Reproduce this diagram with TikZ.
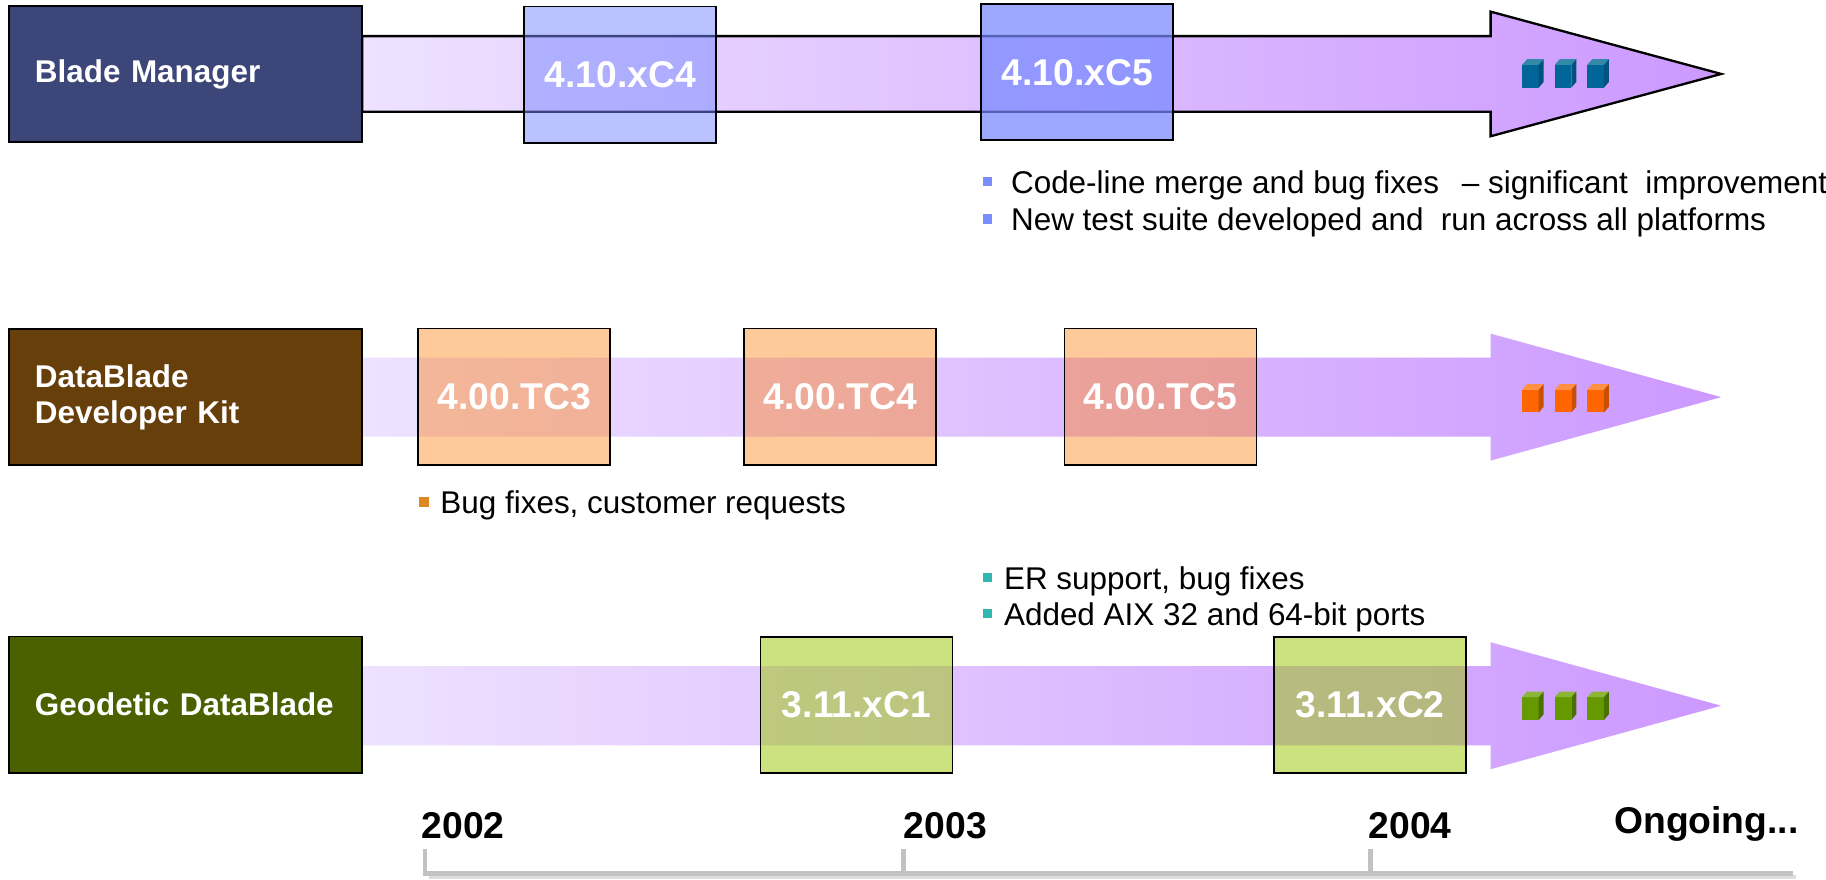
\documentclass[tikz,border=0pt]{standalone}
\usepackage{fontspec}
\setmainfont{Liberation Sans}
\definecolor{navybox}{HTML}{3C4679}
\definecolor{brownbox}{HTML}{663F0A}
\definecolor{olivebox}{HTML}{4B6100}
\definecolor{lavL}{HTML}{EEE2FF}
\definecolor{lavR}{HTML}{CC99FF}
\definecolor{bluebox}{HTML}{7789FF}
\definecolor{orangebox}{HTML}{FF7C00}
\definecolor{greenbox}{HTML}{99C700}
\definecolor{bulblue}{HTML}{7B8CFF}
\definecolor{bulorange}{HTML}{DD8822}
\definecolor{bulteal}{HTML}{33B5B0}
\definecolor{tlgray}{HTML}{C2C2C2}
\definecolor{tlshadow}{HTML}{DDDDDD}
\definecolor{cbF}{HTML}{006699}\definecolor{cbT}{HTML}{3589A8}\definecolor{cbS}{HTML}{00527C}
\definecolor{coF}{HTML}{FF6600}\definecolor{coT}{HTML}{FF9044}\definecolor{coS}{HTML}{C95000}
\definecolor{cgF}{HTML}{669900}\definecolor{cgT}{HTML}{8CB63A}\definecolor{cgS}{HTML}{4A7000}
% arrow: #1 centre y, #2 shaft half height, #3 head half height, #4 extra options
\newcommand\rowarrow[4]{%
  \shade[left color=lavL,right color=lavR,#4]
    (311,{#1-#2}) -- (1280,{#1-#2}) -- (1280,{#1-#3}) -- (1478,#1)
    -- (1280,{#1+#3}) -- (1280,{#1+#2}) -- (311,{#1+#2}) -- cycle;}
% cube: #1 left x, #2 centre y, #3 front, #4 top, #5 side
\newcommand\minicube[5]{%
  \fill[#3] (#1,{#2-7.3}) rectangle ({#1+14.3},{#2+12.2});
  \fill[#4] (#1,{#2-7.3}) -- ({#1+4.3},{#2-12.2}) -- ({#1+18.6},{#2-12.2}) -- ({#1+14.3},{#2-7.3}) -- cycle;
  \fill[#5] ({#1+14.3},{#2-7.3}) -- ({#1+18.6},{#2-12.2}) -- ({#1+18.6},{#2+7.3}) -- ({#1+14.3},{#2+12.2}) -- cycle;}
\newcommand\cuberow[4]{\minicube{1307}{#1}{#2}{#3}{#4}\minicube{1335}{#1}{#2}{#3}{#4}\minicube{1363}{#1}{#2}{#3}{#4}}
\begin{document}
\begin{tikzpicture}[x=1pt,y=-1pt,
  lbl/.style={draw=black,line width=1.5pt,fill=#1,text=white,
    font=\bfseries\fontsize{27}{31}\selectfont,minimum height=117pt,
    text width=259pt,inner xsep=22pt,inner ysep=0pt,align=left},
  vbox/.style={draw=black,line width=1.5pt,fill=#1,fill opacity=0.5,
    text opacity=1,text=white,font=\bfseries\fontsize{32}{32}\selectfont,
    minimum width=165pt,minimum height=117pt,inner sep=0pt},
  bul/.style={fill=#1,minimum size=8pt,inner sep=0pt},
  btxt/.style={anchor=base west,font=\fontsize{27}{32}\selectfont,inner sep=0pt},
  year/.style={anchor=base west,font=\bfseries\fontsize{32}{32}\selectfont,inner sep=0pt},
  tl/.style={draw=tlgray,line width=4pt},
  tlsh/.style={draw=tlshadow,line width=3pt},
]
\useasboundingbox[fill=white] (0,0) rectangle (1568,755);

% arrows
\rowarrow{63.5}{32.5}{53.5}{draw=black,line width=2pt}
\rowarrow{341}{34}{54.5}{}
\rowarrow{606}{34}{54.5}{}

% row labels
\node[lbl=navybox] (bm) at (159.5,63.5) {Blade Manager};
\node[lbl=brownbox] (ddk) at (159.5,341) {DataBlade\\Developer Kit};
\node[lbl=olivebox] (geo) at (159.5,605) {Geodetic DataBlade};

% version boxes
\node[vbox=bluebox] (c4) at (532.5,64) {4.10.xC4};
\node[vbox=bluebox,fill opacity=0.72,text opacity=1] (c5) at (925,62) {4.10.xC5};
\node[vbox=orangebox,fill opacity=0.4,text opacity=1] (tc3) at (441.5,340.5) {4.00.TC3};
\node[vbox=orangebox,fill opacity=0.4,text opacity=1] (tc4) at (721.5,340.5) {4.00.TC4};
\node[vbox=orangebox,fill opacity=0.4,text opacity=1] (tc5) at (996.5,340.5) {4.00.TC5};
\node[vbox=greenbox] (xc1) at (735.5,605.5) {3.11.xC1};
\node[vbox=greenbox] (xc2) at (1176.5,605.5) {3.11.xC2};

% cubes
\cuberow{63}{cbF}{cbT}{cbS}
\cuberow{342}{coF}{coT}{coS}
\cuberow{606}{cgF}{cgT}{cgS}

% bullets
\node[bul=bulblue] (b1) at (848,156) {};
\node[btxt] (t1) at (868,166) {Code-line merge and bug fixes \ \,– significant \ improvement};
\node[bul=bulblue] (b2) at (848,188) {};
\node[btxt] (t2) at (868,198) {New test suite developed and \ run across all platforms};
\node[bul=bulorange] (b3) at (364,431) {};
\node[btxt] (t3) at (378,441) {Bug fixes, customer requests};
\node[bul=bulteal] (b4) at (848,496) {};
\node[btxt] (t4) at (862,506) {ER support, bug fixes};
\node[bul=bulteal] (b5) at (848,527) {};
\node[btxt] (t5) at (862,537) {Added AIX 32 and 64-bit ports};

% timeline
\node[year] (y2002) at (362,720) {2002};
\node[year] (y2003) at (776,720) {2003};
\node[year] (y2004) at (1175,720) {2004};
\node[year] (yon) at (1386,716) {Ongoing...};
\coordinate (tA) at (365,729);
\coordinate (tB) at (365,750);
\coordinate (tC) at (1540,750);
\coordinate (tD) at (776,729);
\coordinate (tE) at (776,748);
\coordinate (tF) at (1177,729);
\coordinate (tG) at (1177,748);
\coordinate (sA) at (368,753);
\coordinate (sB) at (1542,753);
\draw[tlsh] (sA) -- (sB);
\draw[tl] (tA) -- (tB) -- (tC);
\draw[tl] (tD) -- (tE);
\draw[tl] (tF) -- (tG);
\end{tikzpicture}
\end{document}
